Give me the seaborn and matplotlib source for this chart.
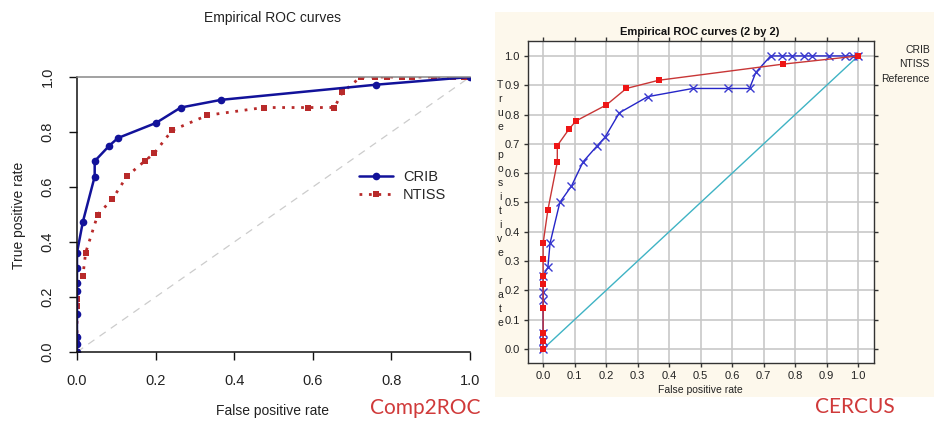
import numpy as np
import pandas as pd
import matplotlib
matplotlib.use("Agg")
import matplotlib.pyplot as plt
from matplotlib.patches import Rectangle
import seaborn as sns

# ---------------- data ----------------
crib_fpr = [0, 0, 0, 0, 0, 0, 0, 0, 0.015, 0.045, 0.045, 0.082, 0.104, 0.201, 0.264, 0.367, 0.761, 1.0]
crib_tpr = [0, 0.028, 0.056, 0.139, 0.222, 0.25, 0.306, 0.361, 0.474, 0.638, 0.694, 0.75, 0.778, 0.833,
            0.889, 0.917, 0.972, 1.0]

ntiss_fpr = [0, 0, 0, 0, 0, 0, 0.015, 0.022, 0.053, 0.09, 0.127, 0.172, 0.196, 0.242, 0.332, 0.475, 0.588,
             0.655, 0.675, 0.722, 0.759, 0.789, 0.827, 0.852, 0.908, 0.958, 0.984, 1.0]
ntiss_tpr = [0, 0.028, 0.056, 0.167, 0.194, 0.25, 0.278, 0.361, 0.5, 0.556, 0.639, 0.694, 0.722, 0.806,
             0.861, 0.889, 0.889, 0.889, 0.944, 1, 1, 1, 1, 1, 1, 1, 1, 1]

ref_fpr = [0.0, 1.0]
ref_tpr = [0.0, 1.0]

left_ticks = [0.0, 0.2, 0.4, 0.6, 0.8, 1.0]
right_ticks = [0.0, 0.1, 0.2, 0.3, 0.4, 0.5, 0.6, 0.7, 0.8, 0.9, 1.0]

crib = pd.DataFrame({"fpr": crib_fpr, "tpr": crib_tpr})
ntiss = pd.DataFrame({"fpr": ntiss_fpr, "tpr": ntiss_tpr})
ref = pd.DataFrame({"fpr": ref_fpr, "tpr": ref_tpr})

sns.set_theme(style="white")
plt.rcParams["font.family"] = ["Liberation Sans", "DejaVu Sans"]

W, H = 934, 421
fig = plt.figure(figsize=(W / 100, H / 100), dpi=100)
fig.patch.set_facecolor("white")


def px_axes(x0, y0, x1, y1):
    return fig.add_axes([x0 / W, 1 - y1 / H, (x1 - x0) / W, (y1 - y0) / H])


# ---------------- left panel (Comp2ROC) ----------------
axL = px_axes(77, 77, 470, 352)
axL.set_facecolor("white")
sns.lineplot(data=ref, x="fpr", y="tpr", ax=axL, color="#cccccc", lw=0.9,
             linestyle=(0, (6, 5)), sort=False, estimator=None, legend=False)
sns.lineplot(data=ntiss, x="fpr", y="tpr", ax=axL, color="#b82a2a", lw=2.0,
             linestyle=(0, (1, 2.4)), marker="s", markersize=4.8, markeredgewidth=0,
             sort=False, estimator=None, label="NTISS")
sns.lineplot(data=crib, x="fpr", y="tpr", ax=axL, color="#12129a", lw=1.8,
             marker="o", markersize=5.5, markeredgewidth=0,
             sort=False, estimator=None, label="CRIB")
axL.set_xlim(0, 1)
axL.set_ylim(0, 1)
axL.set_xticks(left_ticks)
axL.set_yticks(left_ticks)
axL.set_xticklabels([f"{t:.1f}" for t in left_ticks])
axL.set_yticklabels([f"{t:.1f}" for t in left_ticks], rotation=90, va="center")
axL.tick_params(axis="both", direction="out", length=6, width=1, color="#111111",
                labelsize=10.5, labelcolor="#222222", bottom=True, left=True)
axL.tick_params(axis="x", pad=10)
axL.tick_params(axis="y", pad=10)
axL.spines["right"].set_visible(False)
axL.spines["top"].set_color("#888888")
axL.spines["left"].set_color("#111111")
axL.spines["bottom"].set_color("#111111")
for s in ["top", "left", "bottom"]:
    axL.spines[s].set_linewidth(1.1)
axL.set_xlabel("")
axL.set_ylabel("")
h, l = axL.get_legend_handles_labels()
order = [l.index("CRIB"), l.index("NTISS")]
axL.legend([h[i] for i in order], [l[i] for i in order], loc="upper left",
           bbox_to_anchor=(0.70, 0.688), frameon=False, fontsize=10.5,
           handlelength=2.3, handletextpad=0.7, labelspacing=0.25, borderpad=0)

fig.text(273 / W, 1 - 18 / H, "Empirical ROC curves", ha="center", va="center",
         fontsize=10, color="#222222")
fig.text(273 / W, 1 - 411 / H, "False positive rate", ha="center", va="center",
         fontsize=10, color="#222222")
fig.text(19 / W, 1 - 215 / H, "True positive rate", ha="center", va="center",
         rotation=90, fontsize=10, color="#222222")

# ---------------- right panel (CERCUS) ----------------
fig.patches.append(Rectangle((495 / W, 1 - 397 / H), (W - 495) / W, (397 - 12) / H,
                             transform=fig.transFigure, facecolor="#fdf8ec",
                             edgecolor="none", zorder=-10))
axR = px_axes(528, 41, 874, 363)
axR.set_facecolor("white")
axR.grid(True, color="#c8c8c8", lw=1.2)
axR.set_axisbelow(True)
sns.lineplot(data=ref, x="fpr", y="tpr", ax=axR, color="#3fb3c4", lw=1.0,
             sort=False, estimator=None, legend=False)
sns.lineplot(data=ntiss, x="fpr", y="tpr", ax=axR, color="#2525c8", lw=1.0,
             marker="x", markersize=6, markeredgewidth=1.0, markeredgecolor="#3a3ad0",
             sort=False, estimator=None, legend=False)
sns.lineplot(data=crib, x="fpr", y="tpr", ax=axR, color="#c83636", lw=1.0,
             marker="s", markersize=5, markeredgewidth=0, markerfacecolor="#ee1515",
             sort=False, estimator=None, legend=False)
axR.set_xlim(-0.048, 1.05)
axR.set_ylim(-0.048, 1.051)
axR.set_xticks(right_ticks)
axR.set_yticks(right_ticks)
axR.set_xticklabels([f"{t:.1f}" for t in right_ticks])
axR.set_yticklabels([f"{t:.1f}" for t in right_ticks])
axR.tick_params(axis="both", direction="out", length=3, width=1, color="#333333",
                labelsize=8, labelcolor="#222222", bottom=True, left=True,
                top=True, right=True, pad=3)
for s in axR.spines.values():
    s.set_color("#333333")
    s.set_linewidth(1.0)
axR.set_xlabel("")
axR.set_ylabel("")

fig.text(700 / W, 1 - 32 / H, "Empirical ROC curves (2 by 2)", ha="center", va="center",
         fontsize=8, fontweight="bold", color="#111111")
fig.text(700 / W, 1 - 390 / H, "False positive rate", ha="center", va="center",
         fontsize=7.5, color="#222222")
fig.text(500 / W, 1 - 204 / H, "\n".join("True positive rate"), ha="center", va="center",
         fontsize=7.5, color="#222222", linespacing=1.5)
for txt, yy in [("CRIB", 50), ("NTISS", 64), ("Reference", 79)]:
    fig.text(930 / W, 1 - yy / H, txt, ha="right", va="center", fontsize=7.5, color="#222222")

# ---------------- captions ----------------
fig.text(425 / W, 1 - 408 / H, "Comp2ROC", ha="center", va="center", fontsize=15,
         color="#d03a3a", family=["Lato", "DejaVu Sans"])
fig.text(855 / W, 1 - 407 / H, "CERCUS", ha="center", va="center", fontsize=15,
         color="#d03a3a", family=["Lato", "DejaVu Sans"])

fig.savefig("out.png", dpi=100)
